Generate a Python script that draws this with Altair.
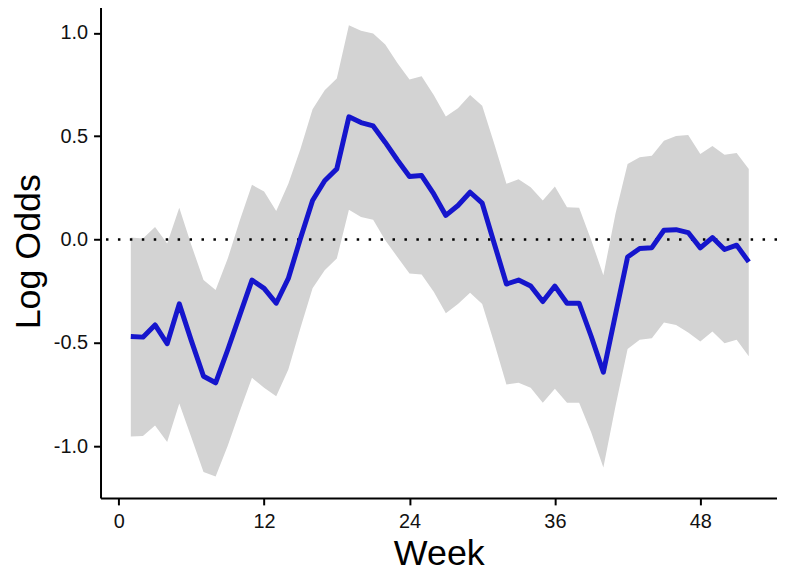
import altair as alt
import pandas as pd

weeks = list(range(1, 53))

fit = [-0.469, -0.472, -0.413, -0.504, -0.311, -0.49, -0.661, -0.693, -0.533, -0.364,
       -0.196, -0.236, -0.308, -0.188, 0.005, 0.189, 0.285, 0.342, 0.594, 0.566,
       0.550, 0.470, 0.385, 0.305, 0.310, 0.221, 0.117, 0.165, 0.229, 0.176,
       -0.02, -0.215, -0.196, -0.225, -0.300, -0.225, -0.308, -0.308, -0.469, -0.642,
       -0.363, -0.084, -0.043, -0.039, 0.045, 0.048, 0.034, -0.040, 0.010, -0.048,
       -0.027, -0.108]

upper = [0.010, 0.005, 0.061, -0.019, 0.154, -0.027, -0.196, -0.244, -0.092, 0.093,
         0.265, 0.233, 0.138, 0.270, 0.438, 0.631, 0.722, 0.780, 1.037, 1.011,
         0.997, 0.944, 0.855, 0.775, 0.790, 0.700, 0.596, 0.635, 0.700, 0.647,
         0.462, 0.270, 0.292, 0.253, 0.189, 0.257, 0.157, 0.154, -0.003, -0.172,
         0.125, 0.366, 0.398, 0.406, 0.478, 0.501, 0.506, 0.414, 0.453, 0.411,
         0.419, 0.342]

lower = [-0.953, -0.950, -0.899, -0.979, -0.793, -0.958, -1.124, -1.146, -0.998, -0.830,
         -0.669, -0.717, -0.758, -0.629, -0.428, -0.236, -0.148, -0.092, 0.144, 0.109,
         0.096, -0.003, -0.084, -0.164, -0.169, -0.252, -0.356, -0.312, -0.257, -0.312,
         -0.501, -0.701, -0.693, -0.717, -0.790, -0.722, -0.790, -0.790, -0.934, -1.103,
         -0.806, -0.530, -0.485, -0.477, -0.401, -0.413, -0.450, -0.493, -0.445, -0.501,
         -0.485, -0.565]

x_ticks = [0, 12, 24, 36, 48]
y_ticks = [-1.0, -0.5, 0.0, 0.5, 1.0]

df = pd.DataFrame({"week": weeks, "fit": fit, "lo": lower, "hi": upper})
ref = pd.DataFrame({"zero": [0.0]})

xscale = alt.Scale(domain=[-1.5, 54.33], nice=False, zero=False)
yscale = alt.Scale(domain=[-1.25, 1.152], nice=False, zero=False)

xaxis = alt.Axis(values=x_ticks, title="Week", titleX=340, titleY=67,
                 titleBaseline="alphabetic", titleAlign="center", labelPadding=7)
yaxis = alt.Axis(values=y_ticks, title="Log Odds",
                 labelExpr="datum.value < 0 ? '-' + format(-datum.value, '.1f') : format(datum.value, '.1f')",
                 titleX=-61, titleY=251, titleAngle=-90, titleBaseline="alphabetic",
                 titleAlign="center", labelPadding=6)

band = alt.Chart(df).mark_area(color="#D3D3D3", opacity=1).encode(
    x=alt.X("week:Q", scale=xscale, axis=xaxis),
    y=alt.Y("lo:Q", scale=yscale, axis=yaxis),
    y2="hi:Q",
)

zero_line = alt.Chart(ref).mark_rule(color="black", strokeWidth=2.5, strokeDash=[2.5, 9.5]).encode(
    y=alt.Y("zero:Q", scale=yscale, axis=yaxis),
)

line = alt.Chart(df).mark_line(color="#1515CC", strokeWidth=5, strokeJoin="round").encode(
    x=alt.X("week:Q", scale=xscale, axis=xaxis),
    y=alt.Y("fit:Q", scale=yscale, axis=yaxis),
)

chart = alt.layer(band, zero_line, line).properties(
    width=680,
    height=499,
    autosize=alt.AutoSizeParams(type="none"),
    padding={"left": 93, "top": -8, "right": 0, "bottom": 74},
).configure_view(stroke=None).configure_axis(
    grid=False,
    domainColor="black",
    domainWidth=2,
    tickColor="black",
    tickWidth=2,
    tickSize=7,
    labelFont="Liberation Sans",
    labelFontSize=20,
    labelColor="#111111",
    titleFont="Liberation Sans",
    titleFontSize=36,
    titleFontWeight="normal",
    titleColor="black",
)

chart.save("out.html", embed_options={"renderer": "svg", "actions": False})
